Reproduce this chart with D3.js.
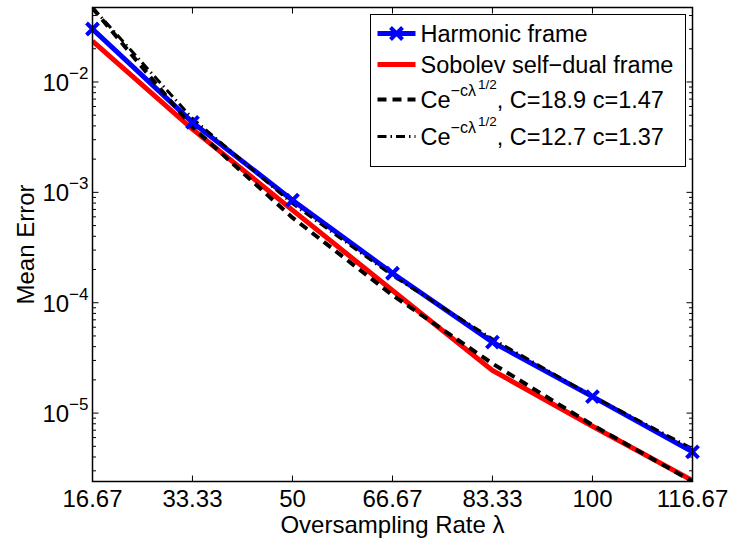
<!DOCTYPE html>
<html>
<head>
<meta charset="utf-8">
<script src="https://cdn.jsdelivr.net/npm/d3@7"></script>
<style>
  body { margin: 0; background: #fff; }
  text { font-family: "Liberation Sans", Arial, Helvetica, sans-serif; fill: #000; }
</style>
</head>
<body>
<div id="container"></div>
<script>
/* Data */
var lambda = [16.67, 33.33, 50, 66.67, 83.33, 100, 116.67];
var xTickLabels = ['16.67', '33.33', '50', '66.67', '83.33', '100', '116.67'];
var harmonic = [0.0302, 4.3e-3, 8.5e-4, 1.85e-4, 4.4e-5, 1.41e-5, 4.45e-6];
var sobolev = [0.0234, 3.74e-3, 6.9e-4, 1.29e-4, 2.44e-5, 7.6e-6, 2.45e-6];
var fitDashed = [0.0468, 3.9e-3, 5.9e-4, 1.17e-4, 2.81e-5, 7.8e-6, 2.40e-6];
var fitDashDot = [0.0473, 4.67e-3, 7.9e-4, 1.76e-4, 4.7e-5, 1.425e-5, 4.75e-6];
var yLimits = [2.40e-6, 0.0473];
var yTickExp = [-5, -4, -3, -2];
var legendNames = ['Harmonic frame', 'Sobolev self\u2212dual frame'];
var fitParams = ['C=18.9 c=1.47', 'C=12.7 c=1.37'];

var w = 734, h = 544;
var margin = {top: 7.5, right: 41.5, bottom: 62.5, left: 92.5};
var width = w - margin.left - margin.right,
	height = h - margin.top - margin.bottom;

var svg = d3.select('#container').append('svg')
	.attr('width', w)
	.attr('height', h);

svg.append('rect').attr('width', w).attr('height', h).attr('fill', '#fff');

var chart = svg.append('g')
	.attr('transform', 'translate(' + margin.left + ',' + margin.top + ')');

/* Scales */
var xScale = d3.scaleLinear()
		.domain([lambda[0], lambda[lambda.length - 1]])
		.range([0, width]),
	yScale = d3.scaleLog()
		.domain(yLimits)
		.range([height, 0]);

/* Ticks: major + minor on all four sides, pointing inward */
var minorTicks = [];
for (var e = -6; e <= -1; e++) {
	for (var k = 2; k <= 9; k++) {
		var v = k * Math.pow(10, e);
		if (v > yLimits[0] && v < yLimits[1]) minorTicks.push(v);
	}
}
var majorY = yTickExp.map(function(p) { return Math.pow(10, p); });

var ticks = chart.append('g').attr('stroke', '#000').attr('stroke-width', 1);
[0, width].forEach(function(x0, i) {
	var dir = i === 0 ? 1 : -1;
	ticks.selectAll(null).data(majorY).enter().append('line')
		.attr('x1', x0).attr('x2', x0 + dir * 6)
		.attr('y1', d => yScale(d)).attr('y2', d => yScale(d));
	ticks.selectAll(null).data(minorTicks).enter().append('line')
		.attr('x1', x0).attr('x2', x0 + dir * 3.5)
		.attr('y1', d => yScale(d)).attr('y2', d => yScale(d));
});
[height, 0].forEach(function(y0, i) {
	var dir = i === 0 ? -1 : 1;
	ticks.selectAll(null).data(lambda).enter().append('line')
		.attr('x1', d => xScale(d)).attr('x2', d => xScale(d))
		.attr('y1', y0).attr('y2', y0 + dir * 6);
});

/* Tick labels */
chart.append('g').selectAll('text')
	.data(lambda)
	.enter().append('text')
	.attr('x', d => xScale(d))
	.attr('y', height + 25)
	.attr('text-anchor', 'middle')
	.style('font-size', '24px')
	.text((d, i) => xTickLabels[i]);

var yLab = chart.append('g').selectAll('text')
	.data(yTickExp)
	.enter().append('text')
	.attr('x', -4)
	.attr('y', d => yScale(Math.pow(10, d)) + 9)
	.attr('text-anchor', 'end')
	.style('font-size', '24px');
yLab.append('tspan').text('10');
yLab.append('tspan')
	.attr('dy', -12)
	.style('font-size', '17px')
	.text(d => '\u2212' + Math.abs(d));

/* Axis titles */
chart.append('text')
	.attr('x', width / 2)
	.attr('y', height + 51)
	.attr('text-anchor', 'middle')
	.style('font-size', '24px')
	.text('Oversampling Rate \u03bb');

chart.append('text')
	.attr('transform', 'translate(' + (34 - margin.left) + ',' + (height / 2) + ') rotate(-90)')
	.attr('text-anchor', 'middle')
	.style('font-size', '24px')
	.text('Mean Error');

/* Lines */
chart.append('clipPath').attr('id', 'plotclip')
	.append('rect').attr('width', width).attr('height', height);

var line = d3.line()
	.x((d, i) => xScale(lambda[i]))
	.y(d => yScale(d));

var series = [
	{values: harmonic, color: '#0000ff', width: 5, dash: null},
	{values: sobolev, color: '#ff0000', width: 5, dash: null},
	{values: fitDashed, color: '#000', width: 4, dash: '9,6'},
	{values: fitDashDot, color: '#000', width: 3, dash: '9,4,1.5,4'}
];

var plot = chart.append('g').attr('clip-path', 'url(#plotclip)');
series.forEach(function(s) {
	plot.append('path')
		.attr('d', line(s.values))
		.attr('fill', 'none')
		.attr('stroke', s.color)
		.attr('stroke-width', s.width)
		.attr('stroke-dasharray', s.dash);
});

/* Harmonic markers */
chart.append('g').selectAll('path')
	.data(harmonic)
	.enter().append('path')
	.attr('transform', (d, i) => 'translate(' + xScale(lambda[i]) + ',' + yScale(d) + ')')
	.attr('d', 'M-6,-6L6,6M-6,6L6,-6')
	.attr('stroke', '#0000ff')
	.attr('stroke-width', 4)
	.attr('fill', 'none');

/* Box */
chart.append('rect')
	.attr('width', width)
	.attr('height', height)
	.attr('fill', 'none')
	.attr('stroke', '#000')
	.attr('stroke-width', 1.5);

/* Legend */
var legend = svg.append('g').attr('transform', 'translate(370.5,14.5)');
legend.append('rect')
	.attr('width', 315)
	.attr('height', 152)
	.attr('fill', '#fff')
	.attr('stroke', '#000')
	.attr('stroke-width', 1);

var rowY = [19, 50, 85, 122];
series.forEach(function(s, i) {
	legend.append('line')
		.attr('x1', 7).attr('x2', 45)
		.attr('y1', rowY[i]).attr('y2', rowY[i])
		.attr('stroke', s.color)
		.attr('stroke-width', s.width)
		.attr('stroke-dasharray', s.dash);
});
legend.append('path')
	.attr('transform', 'translate(26,' + rowY[0] + ')')
	.attr('d', 'M-6,-6L6,6M-6,6L6,-6')
	.attr('stroke', '#0000ff')
	.attr('stroke-width', 4);

legendNames.forEach(function(name, i) {
	legend.append('text')
		.attr('x', 50)
		.attr('y', rowY[i] + 8)
		.style('font-size', '23.5px')
		.text(name);
});

fitParams.forEach(function(p, j) {
	var t = legend.append('text')
		.attr('x', 50)
		.attr('y', rowY[j + 2] + 8)
		.style('font-size', '23.5px');
	t.append('tspan').text('Ce');
	t.append('tspan').attr('dy', -12).style('font-size', '16px').text('\u2212c\u03bb');
	t.append('tspan').attr('dx', 2).attr('dy', -7).style('font-size', '13.5px').text('1/2');
	t.append('tspan').attr('dy', 19).text(', ' + p);
});
</script>
</body>
</html>
